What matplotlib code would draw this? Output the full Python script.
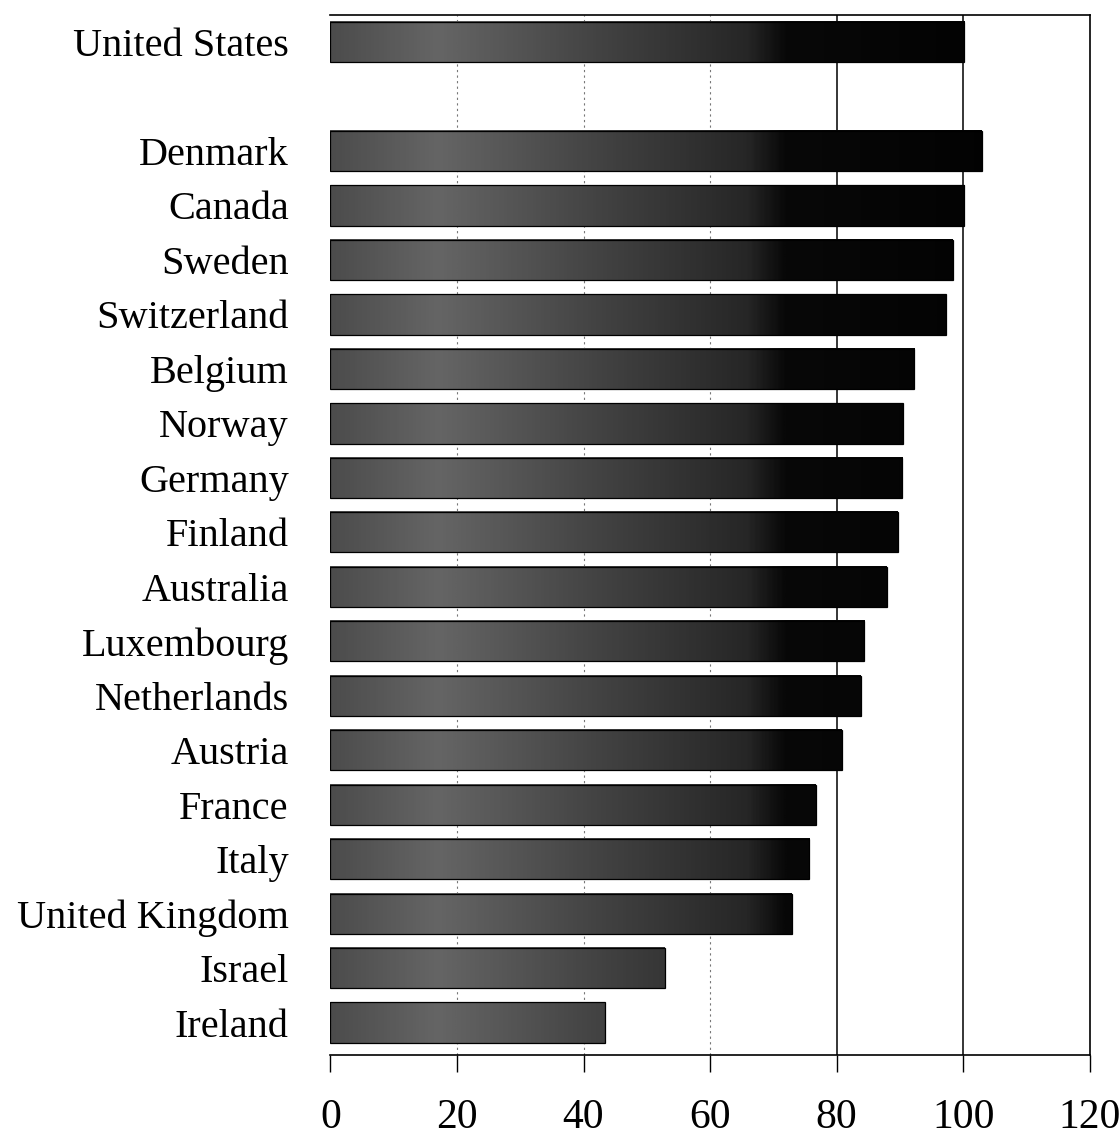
import numpy as np
import matplotlib
matplotlib.use("Agg")
import matplotlib.pyplot as plt
from matplotlib.colors import LinearSegmentedColormap

# Data (index)
countries = ["United States", "", "Denmark", "Canada", "Sweden", "Switzerland",
             "Belgium", "Norway", "Germany", "Finland", "Australia", "Luxembourg",
             "Netherlands", "Austria", "France", "Italy", "United Kingdom",
             "Israel", "Ireland"]
values = [100.2, None, 103.0, 100.2, 98.4, 97.3, 92.3, 90.5, 90.4, 89.7, 88.0,
          84.4, 83.9, 80.9, 76.8, 75.7, 73.0, 52.9, 43.4]
xticks = [0, 20, 40, 60, 80, 100, 120]

plt.rcParams['font.family'] = ['Liberation Serif', 'DejaVu Serif']

fig = plt.figure(figsize=(11.2, 11.36), dpi=100)
ax = fig.add_axes([0.295, 0.071, 0.678, 0.916])

# grey-to-black shading along the value axis
shade = LinearSegmentedColormap.from_list(
    'shade', [(0.0, '#4c4c4c'), (0.14, '#656565'), (0.35, '#434343'),
              (0.55, '#262626'), (0.6, '#080808'), (1.0, '#000000')])

barH = 0.74
for i, v in enumerate(values):
    if v is None:
        continue
    xs = np.linspace(0, v, 300)
    ax.imshow((xs / 120.0)[None, :], cmap=shade, vmin=0, vmax=1, aspect='auto',
              extent=(0, v, i + barH / 2, i - barH / 2), zorder=2,
              interpolation='bilinear')
    ax.barh(i, v, height=barH, facecolor='none', edgecolor='black',
            linewidth=0.9, zorder=3)

# gridlines
for g in [20, 40, 60]:
    ax.axvline(g, color='#777777', linewidth=0.8, linestyle=(0, (2, 3)), zorder=1)
for g in [80, 100]:
    ax.axvline(g, color='black', linewidth=1.1, zorder=1)

ax.set_xlim(0, 120)
ax.set_ylim(18.6, -0.5)
ax.set_xticks(xticks)
ax.set_xticklabels([str(t) for t in xticks], fontsize=30)
ax.set_yticks(range(len(countries)))
ax.set_yticklabels(countries, fontsize=29)
ax.tick_params(axis='y', length=0, pad=30)
ax.tick_params(axis='x', length=12, width=1, pad=19, direction='out')

ax.spines['left'].set_visible(False)
for s in ['top', 'right', 'bottom']:
    ax.spines[s].set_linewidth(1.2)
    ax.spines[s].set_color('black')

fig.savefig('out.png', dpi=100)
